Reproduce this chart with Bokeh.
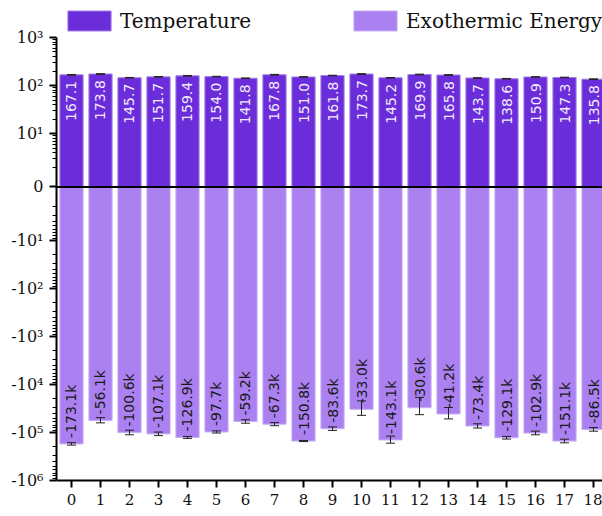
import math
from bokeh.plotting import figure
from bokeh.models import (ColumnDataSource, FixedTicker, Span, Whisker, TeeHead,
                          Legend, LegendItem, Range1d)
from bokeh.core.properties import value
from bokeh.embed import file_html
from bokeh.resources import INLINE

# ---------------- data ----------------
categories = list(range(19))
temperature = [167.1, 173.8, 145.7, 151.7, 159.4, 154.0, 141.8, 167.8, 151.0, 161.8,
               173.7, 145.2, 169.9, 165.8, 143.7, 138.6, 150.9, 147.3, 135.8]
temperature_err = [3, 3, 2, 2, 3, 2, 2, 3, 2, 2, 3, 2, 3, 3, 2, 2, 2, 2, 2]
energy_k = [-173.1, -56.1, -100.6, -107.1, -126.9, -97.7, -59.2, -67.3, -150.8, -83.6,
            -33.0, -143.1, -30.6, -41.2, -73.4, -129.1, -102.9, -151.1, -86.5]
energy_err_k = [10, 7, 11, 9, 6, 5, 5, 5, 4, 7, 11, 24, 12, 11, 7.5, 8, 9, 13, 7.5]
y_major_values = [-1e6, -1e5, -1e4, -1e3, -1e2, -1e1, 0, 1e1, 1e2, 1e3]
y_major_labels = ["-10⁶", "-10⁵", "-10⁴", "-10³", "-10²", "-10¹", "0", "10¹", "10²", "10³"]
series_names = ["Temperature", "Exothermic Energy"]

TEMP_COLOR = "#6b2cd9"
ENERGY_COLOR = "#ab80f0"

# ------------- symlog transform (base 10, linthresh 10, linscale 1) -------------
LINTHRESH = 10.0
LS_ADJ = 1.0 / (1 - 1 / 10.0)


def symlog(v):
    a = abs(v)
    if a == 0:
        return 0.0
    if a <= LINTHRESH:
        t = a / LINTHRESH * LS_ADJ
    else:
        t = LS_ADJ + math.log10(a / LINTHRESH)
    return math.copysign(t, v)


PX = 48.0           # approx pixels per transformed unit
OFF = 6.0 / PX      # label offset from bar end

energy = [e * 1000 for e in energy_k]
energy_err = [e * 1000 for e in energy_err_k]

t_temp = [symlog(v) for v in temperature]
t_energy = [symlog(v) for v in energy]

src_t = ColumnDataSource(dict(
    x=categories, top=t_temp,
    up=[symlog(v + e) for v, e in zip(temperature, temperature_err)],
    lo=[symlog(v - e) for v, e in zip(temperature, temperature_err)],
    ly=[t - OFF for t in t_temp],
    txt=[f"{v:.1f}" for v in temperature],
))
src_e = ColumnDataSource(dict(
    x=categories, bottom=t_energy,
    up=[symlog(v + e) for v, e in zip(energy, energy_err)],
    lo=[symlog(v - e) for v, e in zip(energy, energy_err)],
    ly=[t + OFF for t in t_energy],
    txt=[f"{v:.1f}k" for v in energy_k],
))

# ticks
major_pos = [symlog(v) for v in y_major_values]
minor_pos = []
for sgn in (1, -1):
    # linear region (quirk of the reference locator)
    for k in range(2, 10):
        minor_pos.append(sgn * (LS_ADJ - 1 + math.log10(k)))
    top_dec = 2 if sgn == 1 else 5
    for d in range(0, top_dec):
        for k in range(2, 10):
            minor_pos.append(sgn * (LS_ADJ + d + math.log10(k)))

y_lo = major_pos[0]
y_hi = major_pos[-1]

FRAME_H = 480
p = figure(width=602, height=516, output_backend="svg", toolbar_location=None,
           x_range=Range1d(-0.517, 18.31),
           y_range=Range1d(y_lo, y_hi + 37 / PX),
           min_border_left=56, min_border_right=0, min_border_top=0, min_border_bottom=36)
p.outline_line_color = None
p.xgrid.grid_line_color = None
p.ygrid.grid_line_color = None
p.background_fill_color = "white"

r_t = p.vbar(x="x", top="top", bottom=0, width=0.8, source=src_t,
             fill_color=TEMP_COLOR, line_color="#a37fe8", line_width=1)
r_e = p.vbar(x="x", top=0, bottom="bottom", width=0.8, source=src_e,
             fill_color=ENERGY_COLOR, line_color="#c7aef6", line_width=1)

p.add_layout(Span(location=0, dimension="width", line_color="black", line_width=2))

for src in (src_t, src_e):
    w = Whisker(source=src, base="x", upper="up", lower="lo", dimension="height",
                line_color="#222222", line_width=1, level="overlay",
                upper_head=TeeHead(size=9, line_color="#222222", line_width=1),
                lower_head=TeeHead(size=9, line_color="#222222", line_width=1))
    p.add_layout(w)

p.text(x="x", y="ly", text="txt", source=src_t, angle=math.pi / 2,
       text_align="right", text_baseline="middle",
       text_font=value("DejaVu Sans"), text_font_size="14px", text_color="#f1eafd")
p.text(x="x", y="ly", text="txt", source=src_e, angle=math.pi / 2,
       text_align="left", text_baseline="middle",
       text_font=value("DejaVu Sans"), text_font_size="14px", text_color="#1a1a1a")

# axes
xa = p.xaxis[0]
xa.ticker = FixedTicker(ticks=categories)
xa.minor_tick_line_color = None
xa.major_tick_out = 7
xa.major_tick_in = 0
xa.major_tick_line_width = 2
xa.axis_line_width = 2
xa.axis_line_color = "black"
xa.major_label_text_font = "DejaVu Serif"
xa.major_label_text_font_size = "15px"
xa.major_label_text_color = "#111111"
xa.major_label_standoff = 6

ya = p.yaxis[0]
ya.ticker = FixedTicker(ticks=major_pos, minor_ticks=minor_pos)
ya.major_label_overrides = {pos: lab for pos, lab in zip(major_pos, y_major_labels)}
ya.bounds = (y_lo, y_hi)
ya.major_tick_out = 7
ya.major_tick_in = 0
ya.minor_tick_out = 4
ya.minor_tick_in = 0
ya.major_tick_line_width = 2
ya.minor_tick_line_width = 1
ya.axis_line_width = 2
ya.axis_line_color = "black"
ya.major_label_text_font = "DejaVu Serif"
ya.major_label_text_font_size = "16px"
ya.major_label_text_color = "#111111"
ya.major_label_standoff = 6

# legends (two separately positioned single-item legends)
for r, name, xpos in ((r_t, series_names[0], 6), (r_e, series_names[1], 292)):
    leg = Legend(items=[LegendItem(label=name, renderers=[r])],
                 location=(xpos, FRAME_H - 33), orientation="horizontal",
                 glyph_width=54, glyph_height=25, label_height=25,
                 label_text_font="DejaVu Serif", label_text_font_size="20px",
                 label_text_color="#111111", label_standoff=4,
                 border_line_color=None, background_fill_alpha=0,
                 padding=0, margin=0, spacing=0)
    p.add_layout(leg, "center")

open("out.html", "w").write(file_html(p, INLINE))
